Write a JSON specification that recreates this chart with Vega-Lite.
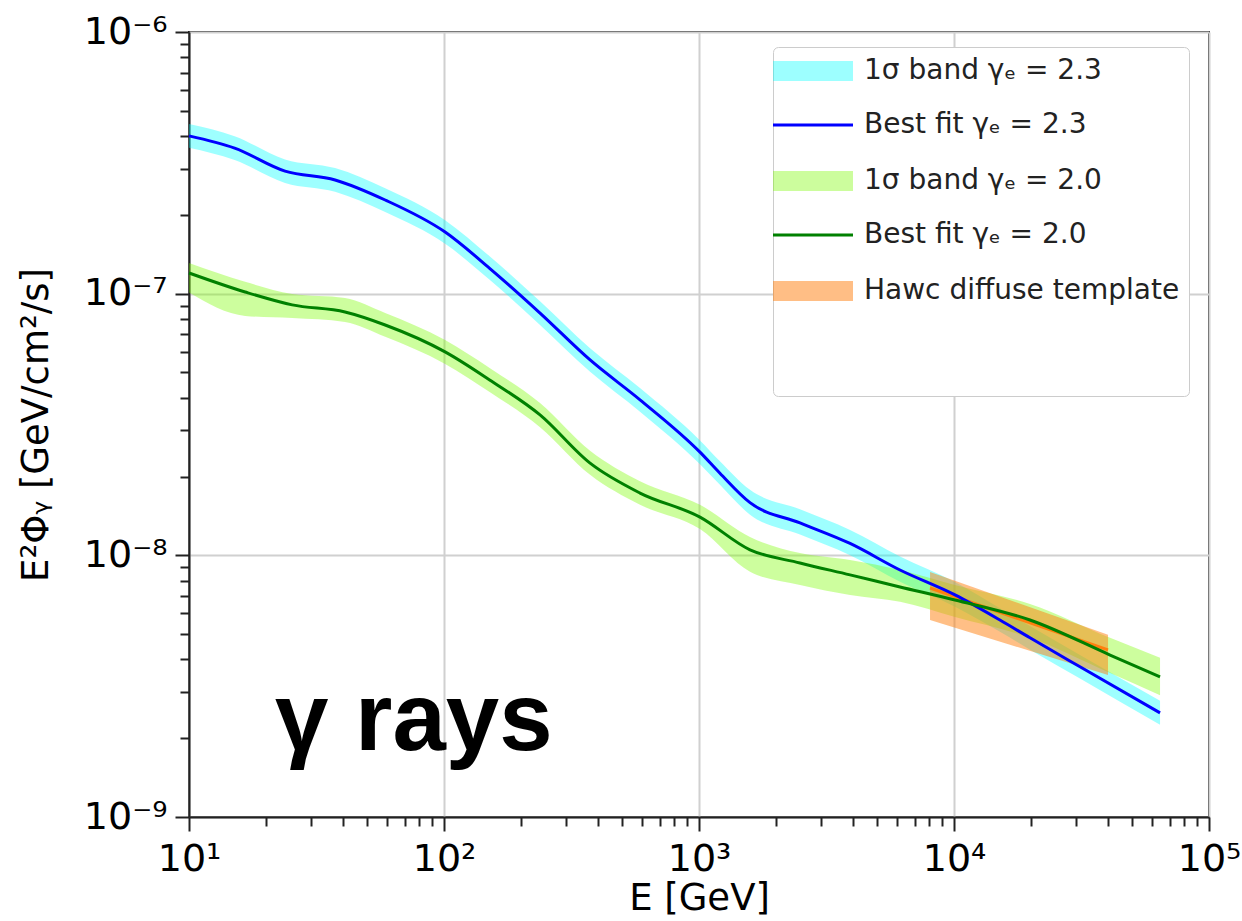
{
  "$schema": "https://vega.github.io/schema/vega-lite/v6.json",
  "width": 1020,
  "height": 785,
  "autosize": {"type": "none"},
  "padding": {"left": 189, "top": 32, "right": 33, "bottom": 104},
  "background": "white",
  "config": {
    "view": {"stroke": "#222222", "strokeWidth": 2},
    "font": "DejaVu Sans",
    "axis": {
      "domainColor": "#222222", "domainWidth": 2,
      "tickColor": "#222222", "tickWidth": 2,
      "labelColor": "black", "titleColor": "black",
      "labelFont": "DejaVu Sans", "titleFont": "DejaVu Sans",
      "titleFontWeight": "normal",
      "gridColor": "#d0d0d0", "gridWidth": 2,
      "labelFontSize": 38, "titleFontSize": 37,
      "labelOverlap": false, "labelFlush": false, "labelBound": false
    },
    "legend": {
      "titleOrient": "bottom",
      "titleFontSize": 27,
      "titlePadding": 30,
      "orient": "none",
      "legendX": 584,
      "legendY": 15,
      "padding": 9,
      "strokeColor": "#cccccc",
      "fillColor": "white",
      "cornerRadius": 5,
      "symbolSize": 100,
      "symbolType": "M-8,0H8",
      "symbolOffset": 16,
      "labelOffset": 36,
      "labelFont": "DejaVu Sans",
      "labelFontSize": 28,
      "labelColor": "#222222",
      "labelLimit": 0,
      "gridAlign": "all",
      "rowPadding": -38
    }
  },
  "datasets": {
    "bands": [
      {"series": "1σ band γₑ = 2.3", "E": 10, "lo": 3.61e-7, "hi": 4.45e-7},
      {"series": "1σ band γₑ = 2.3", "E": 15.1, "lo": 3.24e-7, "hi": 4.00e-7},
      {"series": "1σ band γₑ = 2.3", "E": 23.8, "lo": 2.65e-7, "hi": 3.26e-7},
      {"series": "1σ band γₑ = 2.3", "E": 37.4, "lo": 2.45e-7, "hi": 3.02e-7},
      {"series": "1σ band γₑ = 2.3", "E": 58.8, "lo": 2.05e-7, "hi": 2.53e-7},
      {"series": "1σ band γₑ = 2.3", "E": 101, "lo": 1.55e-7, "hi": 1.91e-7},
      {"series": "1σ band γₑ = 2.3", "E": 151, "lo": 1.13e-7, "hi": 1.39e-7},
      {"series": "1σ band γₑ = 2.3", "E": 238, "lo": 7.59e-8, "hi": 9.36e-8},
      {"series": "1σ band γₑ = 2.3", "E": 374, "lo": 5.03e-8, "hi": 6.19e-8},
      {"series": "1σ band γₑ = 2.3", "E": 587, "lo": 3.54e-8, "hi": 4.36e-8},
      {"series": "1σ band γₑ = 2.3", "E": 1009, "lo": 2.23e-8, "hi": 2.75e-8},
      {"series": "1σ band γₑ = 2.3", "E": 1208, "lo": 1.86e-8, "hi": 2.29e-8},
      {"series": "1σ band γₑ = 2.3", "E": 1585, "lo": 1.43e-8, "hi": 1.78e-8},
      {"series": "1σ band γₑ = 2.3", "E": 2489, "lo": 1.20e-8, "hi": 1.50e-8},
      {"series": "1σ band γₑ = 2.3", "E": 3912, "lo": 1.00e-8, "hi": 1.25e-8},
      {"series": "1σ band γₑ = 2.3", "E": 6142, "lo": 7.92e-9, "hi": 9.90e-9},
      {"series": "1σ band γₑ = 2.3", "E": 10090, "lo": 6.36e-9, "hi": 7.90e-9},
      {"series": "1σ band γₑ = 2.3", "E": 15140, "lo": 5.10e-9, "hi": 6.28e-9},
      {"series": "1σ band γₑ = 2.3", "E": 19860, "lo": 4.36e-9, "hi": 5.37e-9},
      {"series": "1σ band γₑ = 2.3", "E": 31190, "lo": 3.38e-9, "hi": 4.16e-9},
      {"series": "1σ band γₑ = 2.3", "E": 64270, "lo": 2.25e-9, "hi": 2.78e-9},
      {"series": "1σ band γₑ = 2.0", "E": 10, "lo": 1.01e-7, "hi": 1.31e-7},
      {"series": "1σ band γₑ = 2.0", "E": 16.6, "lo": 8.22e-8, "hi": 1.11e-7},
      {"series": "1σ band γₑ = 2.0", "E": 25.4, "lo": 8.07e-8, "hi": 9.97e-8},
      {"series": "1σ band γₑ = 2.0", "E": 40.9, "lo": 7.80e-8, "hi": 9.63e-8},
      {"series": "1σ band γₑ = 2.0", "E": 58.8, "lo": 6.84e-8, "hi": 8.44e-8},
      {"series": "1σ band γₑ = 2.0", "E": 101, "lo": 5.39e-8, "hi": 6.65e-8},
      {"series": "1σ band γₑ = 2.0", "E": 151, "lo": 4.21e-8, "hi": 5.20e-8},
      {"series": "1σ band γₑ = 2.0", "E": 238, "lo": 3.09e-8, "hi": 3.82e-8},
      {"series": "1σ band γₑ = 2.0", "E": 374, "lo": 2.03e-8, "hi": 2.51e-8},
      {"series": "1σ band γₑ = 2.0", "E": 587, "lo": 1.56e-8, "hi": 1.92e-8},
      {"series": "1σ band γₑ = 2.0", "E": 1009, "lo": 1.26e-8, "hi": 1.56e-8},
      {"series": "1σ band γₑ = 2.0", "E": 1585, "lo": 8.65e-9, "hi": 1.175e-8},
      {"series": "1σ band γₑ = 2.0", "E": 2489, "lo": 7.71e-9, "hi": 1.02e-8},
      {"series": "1σ band γₑ = 2.0", "E": 3912, "lo": 7.06e-9, "hi": 9.60e-9},
      {"series": "1σ band γₑ = 2.0", "E": 6142, "lo": 6.64e-9, "hi": 8.79e-9},
      {"series": "1σ band γₑ = 2.0", "E": 10090, "lo": 5.81e-9, "hi": 7.71e-9},
      {"series": "1σ band γₑ = 2.0", "E": 19860, "lo": 4.84e-9, "hi": 6.52e-9},
      {"series": "1σ band γₑ = 2.0", "E": 40930, "lo": 3.55e-9, "hi": 4.84e-9},
      {"series": "1σ band γₑ = 2.0", "E": 64270, "lo": 2.92e-9, "hi": 4.06e-9},
      {"series": "Hawc diffuse template", "E": 8054, "lo": 5.66e-9, "hi": 8.64e-9},
      {"series": "Hawc diffuse template", "E": 40180, "lo": 3.49e-9, "hi": 4.97e-9}
    ],
    "lines": [
      {"series": "Best fit γₑ = 2.3", "E": 10, "F": 4.01e-7},
      {"series": "Best fit γₑ = 2.3", "E": 15.1, "F": 3.60e-7},
      {"series": "Best fit γₑ = 2.3", "E": 23.8, "F": 2.94e-7},
      {"series": "Best fit γₑ = 2.3", "E": 37.4, "F": 2.72e-7},
      {"series": "Best fit γₑ = 2.3", "E": 58.8, "F": 2.28e-7},
      {"series": "Best fit γₑ = 2.3", "E": 101, "F": 1.72e-7},
      {"series": "Best fit γₑ = 2.3", "E": 151, "F": 1.25e-7},
      {"series": "Best fit γₑ = 2.3", "E": 238, "F": 8.43e-8},
      {"series": "Best fit γₑ = 2.3", "E": 374, "F": 5.58e-8},
      {"series": "Best fit γₑ = 2.3", "E": 587, "F": 3.93e-8},
      {"series": "Best fit γₑ = 2.3", "E": 1009, "F": 2.48e-8},
      {"series": "Best fit γₑ = 2.3", "E": 1208, "F": 2.06e-8},
      {"series": "Best fit γₑ = 2.3", "E": 1585, "F": 1.59e-8},
      {"series": "Best fit γₑ = 2.3", "E": 2489, "F": 1.33e-8},
      {"series": "Best fit γₑ = 2.3", "E": 3912, "F": 1.11e-8},
      {"series": "Best fit γₑ = 2.3", "E": 6142, "F": 8.79e-9},
      {"series": "Best fit γₑ = 2.3", "E": 10090, "F": 7.06e-9},
      {"series": "Best fit γₑ = 2.3", "E": 15140, "F": 5.66e-9},
      {"series": "Best fit γₑ = 2.3", "E": 19860, "F": 4.84e-9},
      {"series": "Best fit γₑ = 2.3", "E": 31190, "F": 3.75e-9},
      {"series": "Best fit γₑ = 2.3", "E": 64270, "F": 2.50e-9},
      {"series": "Best fit γₑ = 2.0", "E": 10, "F": 1.20e-7},
      {"series": "Best fit γₑ = 2.0", "E": 16.6, "F": 1.015e-7},
      {"series": "Best fit γₑ = 2.0", "E": 25.4, "F": 9.06e-8},
      {"series": "Best fit γₑ = 2.0", "E": 40.9, "F": 8.51e-8},
      {"series": "Best fit γₑ = 2.0", "E": 58.8, "F": 7.59e-8},
      {"series": "Best fit γₑ = 2.0", "E": 101, "F": 5.99e-8},
      {"series": "Best fit γₑ = 2.0", "E": 151, "F": 4.68e-8},
      {"series": "Best fit γₑ = 2.0", "E": 238, "F": 3.44e-8},
      {"series": "Best fit γₑ = 2.0", "E": 374, "F": 2.25e-8},
      {"series": "Best fit γₑ = 2.0", "E": 587, "F": 1.73e-8},
      {"series": "Best fit γₑ = 2.0", "E": 1009, "F": 1.40e-8},
      {"series": "Best fit γₑ = 2.0", "E": 1585, "F": 1.05e-8},
      {"series": "Best fit γₑ = 2.0", "E": 2489, "F": 9.35e-9},
      {"series": "Best fit γₑ = 2.0", "E": 3912, "F": 8.42e-9},
      {"series": "Best fit γₑ = 2.0", "E": 6142, "F": 7.57e-9},
      {"series": "Best fit γₑ = 2.0", "E": 10090, "F": 6.75e-9},
      {"series": "Best fit γₑ = 2.0", "E": 19860, "F": 5.66e-9},
      {"series": "Best fit γₑ = 2.0", "E": 40930, "F": 4.16e-9},
      {"series": "Best fit γₑ = 2.0", "E": 64270, "F": 3.43e-9}
    ],
    "hawc": [
      {"E": 8054, "F": 7.50e-9},
      {"E": 40180, "F": 4.35e-9}
    ],
    "note": [
      {"E": 21.75, "F": 1.805e-9, "label": "γ rays"}
    ]
  },
  "encoding": {
    "x": {
      "field": "E", "type": "quantitative",
      "scale": {"type": "log", "domain": [10, 100000], "nice": false},
      "axis": {
        "title": "E [GeV]",
        "values": [10,20,30,40,50,60,70,80,90,100,200,300,400,500,600,700,800,900,1000,2000,3000,4000,5000,6000,7000,8000,9000,10000,20000,30000,40000,50000,60000,70000,80000,90000,100000],
        "labelExpr": "abs(log(datum.value)/LN10 - round(log(datum.value)/LN10)) < 0.01 ? '10' + substring('⁰¹²³⁴⁵⁶⁷⁸⁹', round(log(datum.value)/LN10), round(log(datum.value)/LN10) + 1) : ''",
        "tickSize": {"condition": {"test": "abs(log(datum.value)/LN10 - round(log(datum.value)/LN10)) < 0.01", "value": 14}, "value": 9},
        "gridOpacity": {"condition": {"test": "abs(log(datum.value)/LN10 - round(log(datum.value)/LN10)) < 0.01", "value": 1}, "value": 0},
        "labelPadding": 9,
        "titlePadding": 2
      }
    },
    "y": {
      "field": "F", "type": "quantitative",
      "scale": {"type": "log", "domain": [1e-9, 1e-6], "nice": false},
      "axis": {
        "title": "E²Φᵧ [GeV/cm²/s]",
        "values": [1e-9,2e-9,3e-9,4e-9,5e-9,6e-9,7e-9,8e-9,9e-9,1e-8,2e-8,3e-8,4e-8,5e-8,6e-8,7e-8,8e-8,9e-8,1e-7,2e-7,3e-7,4e-7,5e-7,6e-7,7e-7,8e-7,9e-7,1e-6],
        "labelExpr": "abs(log(datum.value)/LN10 - round(log(datum.value)/LN10)) < 0.01 ? '10⁻' + substring('⁰¹²³⁴⁵⁶⁷⁸⁹', round(-log(datum.value)/LN10), round(-log(datum.value)/LN10) + 1) : ''",
        "tickSize": {"condition": {"test": "abs(log(datum.value)/LN10 - round(log(datum.value)/LN10)) < 0.01", "value": 14}, "value": 9},
        "gridOpacity": {"condition": {"test": "abs(log(datum.value)/LN10 - round(log(datum.value)/LN10)) < 0.01", "value": 1}, "value": 0},
        "labelPadding": 8,
        "titlePadding": 28
      }
    }
  },
  "layer": [
    {
      "data": {"name": "bands"},
      "mark": {"type": "area", "interpolate": "monotone"},
      "encoding": {
        "y": {
          "field": "lo", "type": "quantitative", "stack": null,
          "scale": {"type": "log", "domain": [1e-9, 1e-6], "nice": false},
          "axis": {
            "title": "E²Φᵧ [GeV/cm²/s]",
            "values": [1e-9,2e-9,3e-9,4e-9,5e-9,6e-9,7e-9,8e-9,9e-9,1e-8,2e-8,3e-8,4e-8,5e-8,6e-8,7e-8,8e-8,9e-8,1e-7,2e-7,3e-7,4e-7,5e-7,6e-7,7e-7,8e-7,9e-7,1e-6],
            "labelExpr": "abs(log(datum.value)/LN10 - round(log(datum.value)/LN10)) < 0.01 ? '10⁻' + substring('⁰¹²³⁴⁵⁶⁷⁸⁹', round(-log(datum.value)/LN10), round(-log(datum.value)/LN10) + 1) : ''",
            "tickSize": {"condition": {"test": "abs(log(datum.value)/LN10 - round(log(datum.value)/LN10)) < 0.01", "value": 14}, "value": 9},
            "gridOpacity": {"condition": {"test": "abs(log(datum.value)/LN10 - round(log(datum.value)/LN10)) < 0.01", "value": 1}, "value": 0},
            "labelPadding": 8,
            "titlePadding": 28
          }
        },
        "y2": {"field": "hi"},
        "fill": {
          "field": "series", "type": "nominal",
          "scale": {
            "domain": ["1σ band γₑ = 2.3", "1σ band γₑ = 2.0", "Hawc diffuse template"],
            "range": ["#00ffff", "#7cfc00", "#ff7f0e"]
          },
          "legend": null
        },
        "fillOpacity": {"condition": {"test": "datum.series === 'Hawc diffuse template'", "value": 0.5}, "value": 0.38}
      }
    },
    {
      "data": {"name": "hawc"},
      "mark": {"type": "line", "color": "#ff7f0e", "strokeWidth": 3}
    },
    {
      "data": {"name": "lines"},
      "mark": {"type": "line", "interpolate": "monotone"},
      "encoding": {
        "color": {
          "field": "series", "type": "nominal",
          "scale": {
            "domain": ["1σ band γₑ = 2.3", "Best fit γₑ = 2.3", "1σ band γₑ = 2.0", "Best fit γₑ = 2.0", "Hawc diffuse template"],
            "range": ["#00ffff", "#0000ff", "#7cfc00", "#008000", "#ff7f0e"]
          },
          "legend": {"title": " "}
        },
        "strokeWidth": {
          "field": "series", "type": "nominal",
          "scale": {
            "type": "ordinal",
            "domain": ["1σ band γₑ = 2.3", "Best fit γₑ = 2.3", "1σ band γₑ = 2.0", "Best fit γₑ = 2.0", "Hawc diffuse template"],
            "range": [20, 3, 20, 3, 20]
          },
          "legend": {"title": " "}
        },
        "opacity": {
          "field": "series", "type": "nominal",
          "scale": {
            "type": "ordinal",
            "domain": ["1σ band γₑ = 2.3", "Best fit γₑ = 2.3", "1σ band γₑ = 2.0", "Best fit γₑ = 2.0", "Hawc diffuse template"],
            "range": [0.38, 1, 0.38, 1, 0.5]
          },
          "legend": {"title": " "}
        }
      }
    },
    {
      "data": {"name": "note"},
      "mark": {"type": "text", "align": "left", "baseline": "alphabetic", "font": "Liberation Sans", "fontWeight": "bold", "fontSize": 96, "color": "black"},
      "encoding": {
        "text": {"field": "label"}
      }
    }
  ]
}
